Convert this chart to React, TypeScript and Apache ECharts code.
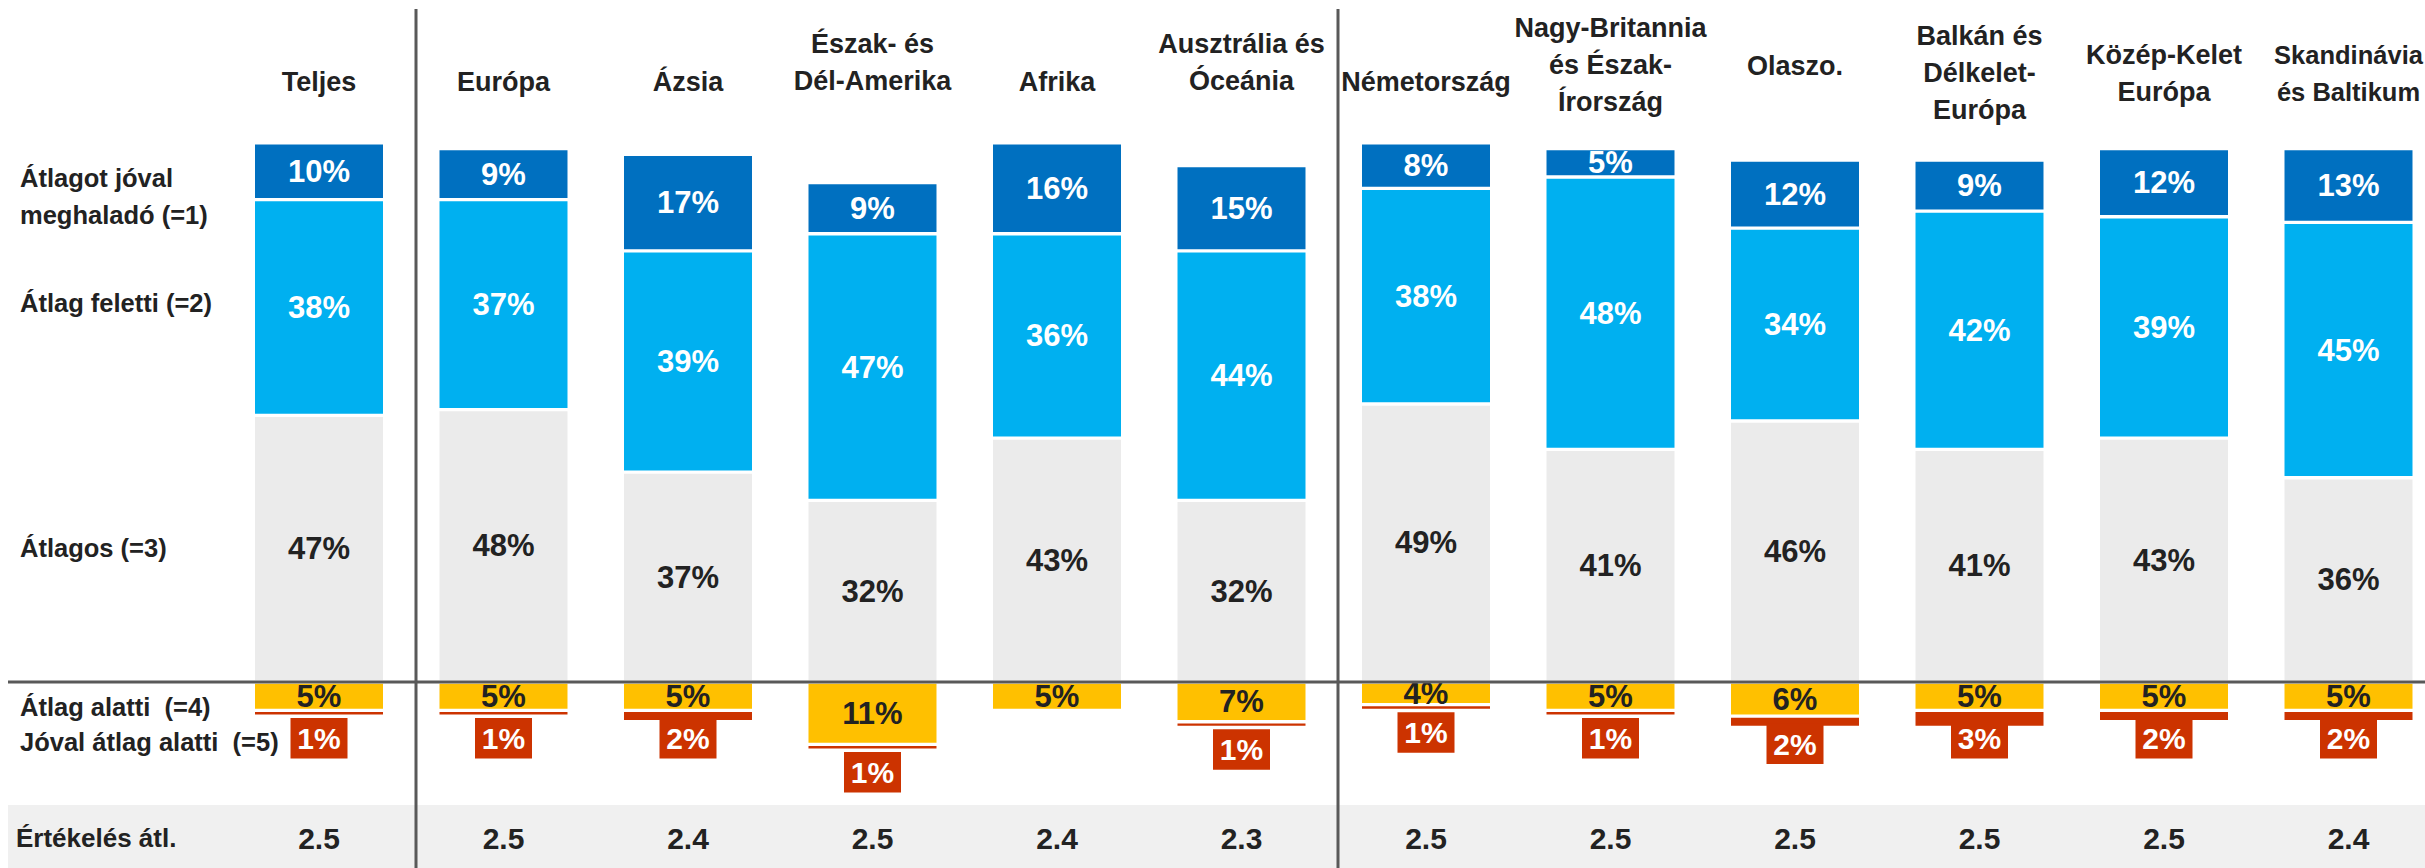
import React, { useEffect, useRef } from 'react';
import * as echarts from 'echarts';

const categories = [
  'Teljes',
  'Európa',
  'Ázsia',
  'Észak- és\nDél-Amerika',
  'Afrika',
  'Ausztrália és\nÓceánia',
  'Németország',
  'Nagy-Britannia\nés Észak-\nÍrország',
  'Olaszo.',
  'Balkán és\nDélkelet-\nEurópa',
  'Közép-Kelet\nEurópa',
  'Skandinávia\nés Baltikum',
];
const muchAbove = [10, 9, 17, 9, 16, 15, 8, 5, 12, 9, 12, 13];
const above = [38, 37, 39, 47, 36, 44, 38, 48, 34, 42, 39, 45];
const average = [47, 48, 37, 32, 43, 32, 49, 41, 46, 41, 43, 36];
const below = [5, 5, 5, 11, 5, 7, 4, 5, 6, 5, 5, 5];
const muchBelow = [1, 1, 2, 1, 0, 1, 1, 1, 2, 3, 2, 2];
const ratingAvg = ['2.5', '2.5', '2.4', '2.5', '2.4', '2.3', '2.5', '2.5', '2.5', '2.5', '2.5', '2.4'];

// header bottom padding and font size (style only, px)
const headerPad = [28, 28, 28, 29.6, 28, 29.6, 28, 8, 44, 0, 18.6, 18.6];
const headerSize = [27, 27, 27, 27, 27, 27, 27, 27, 27, 27, 27, 25.5];

const FONT = '"Liberation Sans", Arial, Helvetica, sans-serif';
const C_DARK = '#0070C0';
const C_LIGHT = '#00B0F0';
const C_GRAY = '#EBEBEB';
const C_YELLOW = '#FFC000';
const C_RED = '#CC3300';
const C_TEXT = '#222222';
const C_LINE = '#595959';

export default function App() {
  const ref = useRef<HTMLDivElement>(null);
  useEffect(() => {
    document.body.style.margin = '0';
    const chart = echarts.init(ref.current!, undefined, { renderer: 'svg' });
    const labelBase = {
      show: true,
      position: 'inside',
      fontFamily: FONT,
      fontWeight: 'bold',
      fontSize: 31,
    };
    const barBase = {
      type: 'bar',
      stack: 'total',
      barWidth: 131.3,
      itemStyle: { borderColor: '#ffffff', borderWidth: 1.65 },
    };
    const leftText = (text: string, y: number, lh = 37) => ({
      type: 'text',
      left: 20,
      top: y,
      z: 50,
      style: {
        text,
        fill: C_TEXT,
        fontFamily: FONT,
        fontWeight: 'bold',
        fontSize: 25.5,
        lineHeight: lh,
      },
    });
    chart.setOption({
      animation: false,
      grid: {
        left: 226.75,
        width: 2214,
        top: 114.6,
        height: 680.9,
        containLabel: false,
        outerBoundsMode: 'none',
      },
      xAxis: [
        {
          type: 'category',
          position: 'top',
          data: categories.map((c, i) => ({
            value: c,
            textStyle: { padding: [0, 0, headerPad[i], 0], fontSize: headerSize[i] },
          })),
          axisLine: { show: false },
          axisTick: { show: false },
          axisLabel: {
            interval: 0,
            margin: -14,
            color: C_TEXT,
            fontFamily: FONT,
            fontWeight: 'bold',
            fontSize: 27,
            lineHeight: 37,
          },
        },
        {
          type: 'category',
          position: 'bottom',
          data: categories,
          axisLine: { show: false },
          axisTick: { show: false },
          axisLabel: {
            interval: 0,
            margin: 42.5,
            verticalAlign: 'middle',
            color: C_TEXT,
            fontFamily: FONT,
            fontWeight: 'bold',
            fontSize: 30,
            formatter: (_v: string, i: number) => ratingAvg[i],
          },
        },
      ],
      yAxis: { type: 'value', min: -20, max: 100, show: false },
      series: [
        {
          ...barBase,
          name: 'Átlagos (=3)',
          data: average,
          itemStyle: { ...barBase.itemStyle, color: C_GRAY },
          label: { ...labelBase, color: C_TEXT, formatter: (p: any) => p.value + '%' },
        },
        {
          ...barBase,
          name: 'Átlag feletti (=2)',
          data: above,
          itemStyle: { ...barBase.itemStyle, color: C_LIGHT },
          label: { ...labelBase, color: '#ffffff', formatter: (p: any) => p.value + '%' },
        },
        {
          ...barBase,
          name: 'Átlagot jóval meghaladó (=1)',
          data: muchAbove,
          itemStyle: { ...barBase.itemStyle, color: C_DARK },
          label: { ...labelBase, color: '#ffffff', formatter: (p: any) => p.value + '%' },
        },
        {
          ...barBase,
          name: 'Átlag alatti (=4)',
          data: below.map((v) => -v),
          itemStyle: { ...barBase.itemStyle, color: C_YELLOW },
          label: { ...labelBase, color: C_TEXT, formatter: (p: any) => Math.abs(p.value) + '%' },
        },
        {
          ...barBase,
          name: 'Jóval átlag alatti (=5)',
          data: muchBelow.map((v) => -v),
          itemStyle: { ...barBase.itemStyle, color: C_RED },
          label: { show: false },
        },
        {
          type: 'custom',
          name: 'Jóval átlag alatti címke',
          z: 10,
          data: categories.map((_c, i) => [i, -below[i], muchBelow[i]]),
          encode: { x: 0, y: 1 },
          renderItem: (_params: any, api: any) => {
            const idx = api.value(0);
            const start = api.value(1);
            const r = api.value(2);
            if (!r) return null;
            const pt = api.coord([idx, start]);
            const x = pt[0];
            const y0 = pt[1];
            return {
              type: 'group',
              children: [
                {
                  type: 'rect',
                  shape: { x: x - 28.5, y: y0 + 7.5, width: 57, height: 40.5 },
                  style: { fill: C_RED },
                },
                {
                  type: 'text',
                  style: {
                    text: r + '%',
                    x: x,
                    y: y0 + 28,
                    align: 'center',
                    verticalAlign: 'middle',
                    fill: '#ffffff',
                    fontFamily: FONT,
                    fontWeight: 'bold',
                    fontSize: 30,
                  },
                },
              ],
            };
          },
        },
      ],
      graphic: [
        {
          type: 'rect',
          z: -10,
          shape: { x: 8, y: 805, width: 2417, height: 63 },
          style: { fill: '#F0F0F0' },
        },
        {
          type: 'line',
          z: 100,
          shape: { x1: 8, y1: 682, x2: 2425, y2: 682 },
          style: { stroke: C_LINE, lineWidth: 3 },
        },
        {
          type: 'line',
          z: 100,
          shape: { x1: 416, y1: 9, x2: 416, y2: 868 },
          style: { stroke: C_LINE, lineWidth: 3 },
        },
        {
          type: 'line',
          z: 100,
          shape: { x1: 1338, y1: 9, x2: 1338, y2: 868 },
          style: { stroke: C_LINE, lineWidth: 3 },
        },
        leftText('Átlagot jóval\nmeghaladó (=1)', 159),
        leftText('Átlag feletti (=2)', 284),
        leftText('Átlagos (=3)', 529),
        leftText('Átlag alatti  (=4)', 688),
        leftText('Jóval átlag alatti  (=5)', 723),
        {
          type: 'text',
          left: 16,
          top: 825,
          z: 50,
          style: {
            text: 'Értékelés átl.',
            fill: C_TEXT,
            fontFamily: FONT,
            fontWeight: 'bold',
            fontSize: 26,
          },
        },
      ],
    });
    return () => chart.dispose();
  }, []);
  return <div ref={ref} style={{ width: 2425, height: 868 }} />;
}
